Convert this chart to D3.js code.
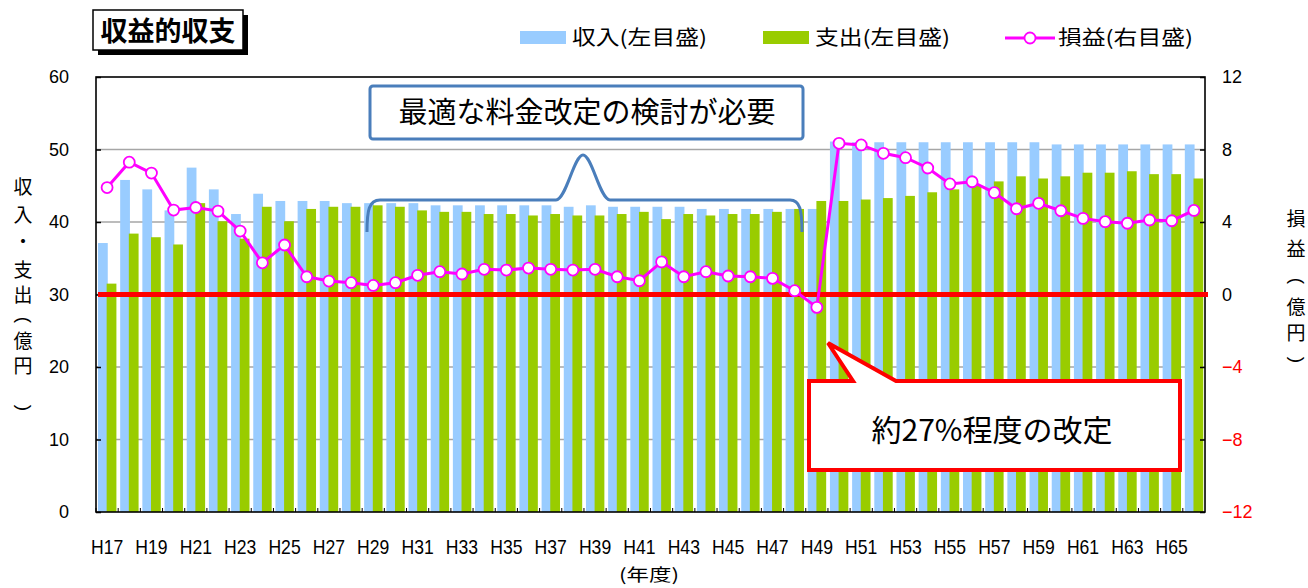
<!DOCTYPE html>
<html><head><meta charset="utf-8">
<script src="https://cdn.jsdelivr.net/npm/d3@7/dist/d3.min.js"></script>
<style>
html,body{margin:0;padding:0;background:#fff;}
svg{display:block;}
.jp{font-family:"Noto Sans CJK JP","Noto Sans",sans-serif;}
.num{font-family:"Liberation Sans",Arial,sans-serif;}
</style></head>
<body>
<svg id="c" width="1308" height="588"></svg>
<script>
const years = d3.range(17, 67).map(n => "H" + n);
const tickLabels = d3.range(17, 66, 2).map(n => "H" + n);
const income = [37.1,45.8,44.5,41.6,47.5,44.5,41.1,43.9,42.9,42.9,42.9,42.6,42.6,42.6,42.6,42.3,42.3,42.3,42.3,42.3,42.3,42.1,42.3,42.1,42.1,42.1,42.1,41.8,41.8,41.8,41.8,41.8,41.8,51.1,51.0,51.0,51.0,51.0,51.0,51.0,51.0,51.0,51.0,50.7,50.7,50.7,50.7,50.7,50.7,50.7];
const expense = [31.5,38.4,37.9,36.9,42.6,40.1,37.7,42.1,40.1,41.8,42.1,42.1,42.3,42.1,41.6,41.4,41.4,41.1,41.1,40.9,41.1,40.9,40.9,41.1,41.4,40.4,41.1,40.9,41.1,41.1,41.4,41.8,42.9,42.9,43.1,43.3,43.6,44.1,44.5,45.0,45.6,46.3,46.0,46.3,46.8,46.8,47.0,46.6,46.6,46.0];
const profit = [5.9,7.3,6.7,4.66,4.8,4.6,3.5,1.75,2.73,0.98,0.74,0.65,0.5,0.65,1.06,1.26,1.13,1.39,1.35,1.46,1.39,1.35,1.39,0.98,0.76,1.8,0.98,1.26,1.02,0.98,0.89,0.21,-0.71,8.34,8.25,7.79,7.55,6.98,6.1,6.22,5.62,4.73,5.03,4.62,4.2,4.02,3.93,4.11,4.07,4.64];
const leftTicks = [0,10,20,30,40,50,60];
const rightTicks = [-12,-8,-4,0,4,8,12];

const svg = d3.select("#c");
const L = 96, R = 1205, T = 77, B = 512;
const x = d3.scaleBand().domain(years).range([L, R]).paddingInner(0).paddingOuter(0);
const yL = d3.scaleLinear().domain([0, 60]).range([B, T]);
const yR = d3.scaleLinear().domain([-12, 12]).range([B, T]);
const bw = x.bandwidth();

// gridlines
svg.append("g").selectAll("line").data(leftTicks.filter(v => v > 0 && v < 60)).join("line")
  .attr("x1", L).attr("x2", R).attr("y1", d => yL(d)).attr("y2", d => yL(d))
  .attr("stroke", "#a6a6a6").attr("stroke-width", 1.5);

// bars
svg.append("g").selectAll("rect").data(income).join("rect")
  .attr("x", (d, i) => x(years[i]) + bw * 0.09).attr("width", bw * 0.44)
  .attr("y", d => yL(d)).attr("height", d => B - yL(d)).attr("fill", "#99ccff");
svg.append("g").selectAll("rect").data(expense).join("rect")
  .attr("x", (d, i) => x(years[i]) + bw * 0.48).attr("width", bw * 0.44)
  .attr("y", d => yL(d)).attr("height", d => B - yL(d)).attr("fill", "#99cc00");

// frame
svg.append("rect").attr("x", L).attr("y", T).attr("width", R - L).attr("height", B - T)
  .attr("fill", "none").attr("stroke", "#000").attr("stroke-width", 1.6);

// axes
const axL = svg.append("g").attr("transform", `translate(${L},0)`)
  .call(d3.axisRight(yL).tickValues(leftTicks).tickSize(5).tickFormat(""));
axL.select(".domain").remove();
axL.selectAll("line").attr("stroke", "#000").attr("stroke-width", 1.5);
svg.append("g").selectAll("text").data(leftTicks).join("text").attr("class", "num")
  .attr("x", 69).attr("y", d => yL(d)).attr("dy", "0.36em").attr("text-anchor", "end")
  .attr("font-size", 18).text(d => d);

const axR = svg.append("g").attr("transform", `translate(${R},0)`)
  .call(d3.axisLeft(yR).tickValues(rightTicks).tickSize(5).tickFormat(""));
axR.select(".domain").remove();
axR.selectAll("line").attr("stroke", "#000").attr("stroke-width", 1.5);
svg.append("g").selectAll("text").data(rightTicks).join("text").attr("class", "num")
  .attr("x", 1222).attr("y", d => yR(d)).attr("dy", "0.36em").attr("text-anchor", "start")
  .attr("font-size", 18).attr("fill", d => d < 0 ? "#ff0000" : "#000")
  .text(d => d < 0 ? "\u2212" + Math.abs(d) : d);

svg.append("g").selectAll("line").data(years).join("line")
  .attr("x1", d => x(d)).attr("x2", d => x(d)).attr("y1", B).attr("y2", B - 4)
  .attr("stroke", "#000").attr("stroke-width", 1);
svg.append("g").selectAll("text").data(tickLabels).join("text").attr("class", "num")
  .attr("x", 0).attr("y", 0).attr("dy", "0.36em").attr("text-anchor", "middle")
  .attr("font-size", 20).attr("transform", d => `translate(${x(d) + bw / 2},547) scale(0.88,1)`)
  .text(d => d);
svg.append("text").attr("class", "jp").attr("x", 619).attr("y", 575).attr("dy", "0.36em")
  .attr("font-size", 17).attr("textLength", 60).attr("lengthAdjust", "spacingAndGlyphs").text("(年度)");

// zero line for profit
svg.append("line").attr("x1", L + 2).attr("x2", R + 3).attr("y1", yR(0)).attr("y2", yR(0))
  .attr("stroke", "#ff0000").attr("stroke-width", 5);

// profit line
const line = d3.line().x((d, i) => x(years[i]) + bw / 2).y(d => yR(d));
svg.append("path").datum(profit).attr("d", line).attr("fill", "none")
  .attr("stroke", "#ff00ff").attr("stroke-width", 3);
svg.append("g").selectAll("circle").data(profit).join("circle")
  .attr("cx", (d, i) => x(years[i]) + bw / 2).attr("cy", d => yR(d)).attr("r", 5.5)
  .attr("fill", "#fff").attr("stroke", "#ff00ff").attr("stroke-width", 1.8);

// axis titles (vertical, one glyph per cell; brackets turned for vertical writing)
function vTitle(cx, items) {
  const g = svg.append("g");
  g.selectAll("text").data(items).join("text")
    .attr("class", d => d[2] ? "num" : "jp")
    .attr("text-anchor", "middle")
    .attr("font-size", 19)
    .attr("dy", d => d[2] ? "0.28em" : "0.36em")
    .attr("transform", d => `translate(${cx},${d[1]})` + (d[2] ? " rotate(90)" : ""))
    .text(d => d[0]);
}
vTitle(23, [["収",187],["入",215],["・",242],["支",270],["出",295],["(",320,1],["億",341],["円",366],[")",408,1]]);
vTitle(1296, [["損",219],["益",249],["(",281,1],["億",307],["円",333],[")",360,1]]);

// title box
svg.append("rect").attr("x", 98).attr("y", 15).attr("width", 150).attr("height", 40).attr("fill", "#000");
svg.append("rect").attr("x", 93).attr("y", 10).attr("width", 150).attr("height", 40)
  .attr("fill", "#fff").attr("stroke", "#000").attr("stroke-width", 1.5);
svg.append("text").attr("class", "jp").attr("x", 168).attr("y", 31).attr("dy", "0.36em")
  .attr("text-anchor", "middle").attr("font-size", 27).attr("font-weight", "bold").text("収益的収支");

// legend
const lg = svg.append("g").attr("class", "jp");
lg.append("rect").attr("x", 520).attr("y", 31).attr("width", 46).attr("height", 13).attr("fill", "#99ccff");
lg.append("text").attr("x", 572).attr("y", 38).attr("dy", "0.36em").attr("font-size", 20)
  .attr("textLength", 135).attr("lengthAdjust", "spacingAndGlyphs").text("収入(左目盛)");
lg.append("rect").attr("x", 763).attr("y", 31).attr("width", 46).attr("height", 13).attr("fill", "#99cc00");
lg.append("text").attr("x", 815).attr("y", 38).attr("dy", "0.36em").attr("font-size", 20)
  .attr("textLength", 135).attr("lengthAdjust", "spacingAndGlyphs").text("支出(左目盛)");
lg.append("line").attr("x1", 1005).attr("x2", 1055).attr("y1", 38).attr("y2", 38).attr("stroke", "#ff00ff").attr("stroke-width", 3);
lg.append("circle").attr("cx", 1030).attr("cy", 38).attr("r", 5.5).attr("fill", "#fff").attr("stroke", "#ff00ff").attr("stroke-width", 1.8);
lg.append("text").attr("x", 1058).attr("y", 38).attr("dy", "0.36em").attr("font-size", 20)
  .attr("textLength", 135).attr("lengthAdjust", "spacingAndGlyphs").text("損益(右目盛)");

// annotation 1
svg.append("rect").attr("x", 370).attr("y", 86).attr("width", 433).attr("height", 53).attr("rx", 3)
  .attr("fill", "#fff").attr("stroke", "#4a7ebb").attr("stroke-width", 3);
svg.append("text").attr("class", "jp").attr("x", 587).attr("y", 113).attr("dy", "0.36em")
  .attr("text-anchor", "middle").attr("font-size", 29).text("最適な料金改定の検討が必要");

// brace
svg.append("path")
  .attr("d", "M367,232 C367,210 369,200 380,200 L556,200 C566,200 574,155 583,155 C592,155 600,200 610,200 L790,200 C800,200 802,210 802,232")
  .attr("fill", "none").attr("stroke", "#4a7ebb").attr("stroke-width", 3);

// annotation 2 (callout)
svg.append("path").attr("d", "M809,381 L853,381 L828,343 L896,381 L1180,381 L1180,470 L809,470 Z")
  .attr("fill", "#fff").attr("stroke", "#ff0000").attr("stroke-width", 4).attr("stroke-linejoin", "miter");
svg.append("text").attr("class", "jp").attr("x", 992).attr("y", 430).attr("dy", "0.36em")
  .attr("text-anchor", "middle").attr("font-size", 30).text("約27%程度の改定");
</script>
</body></html>
